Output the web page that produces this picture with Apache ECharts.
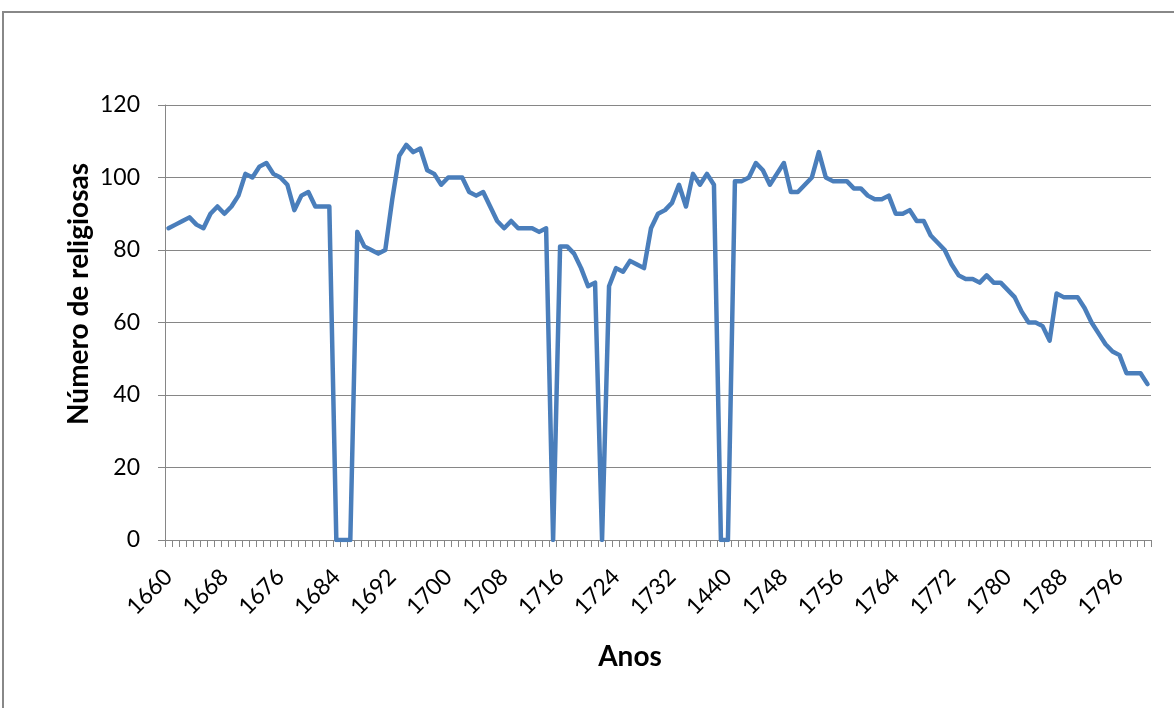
<!DOCTYPE html>
<html>
<head>
<meta charset="utf-8">
<title>Número de religiosas</title>
<script src="https://cdn.jsdelivr.net/npm/echarts@6/dist/echarts.min.js"></script>
<style>
  html, body { margin: 0; padding: 0; background: #fff; }
  #chart { width: 1174px; height: 708px; }
</style>
</head>
<body>
<div id="chart"></div>
<script>
// Year labels along the category axis (the 1740 entry is written "1440" in the source sheet)
const anos = [
  '1660','1661','1662','1663','1664','1665','1666','1667','1668','1669',
  '1670','1671','1672','1673','1674','1675','1676','1677','1678','1679',
  '1680','1681','1682','1683','1684','1685','1686','1687','1688','1689',
  '1690','1691','1692','1693','1694','1695','1696','1697','1698','1699',
  '1700','1701','1702','1703','1704','1705','1706','1707','1708','1709',
  '1710','1711','1712','1713','1714','1715','1716','1717','1718','1719',
  '1720','1721','1722','1723','1724','1725','1726','1727','1728','1729',
  '1730','1731','1732','1733','1734','1735','1736','1737','1738','1739',
  '1440','1741','1742','1743','1744','1745','1746','1747','1748','1749',
  '1750','1751','1752','1753','1754','1755','1756','1757','1758','1759',
  '1760','1761','1762','1763','1764','1765','1766','1767','1768','1769',
  '1770','1771','1772','1773','1774','1775','1776','1777','1778','1779',
  '1780','1781','1782','1783','1784','1785','1786','1787','1788','1789',
  '1790','1791','1792','1793','1794','1795','1796','1797','1798','1799',
  '1800'
];

// Number of nuns recorded each year
const religiosas = [
  86, 87, 88, 89, 87, 86, 90, 92, 90, 92,
  95, 101, 100, 103, 104, 101, 100, 98, 91, 95,
  96, 92, 92, 92, 0, 0, 0, 85, 81, 80,
  79, 80, 94, 106, 109, 107, 108, 102, 101, 98,
  100, 100, 100, 96, 95, 96, 92, 88, 86, 88,
  86, 86, 86, 85, 86, 0, 81, 81, 79, 75,
  70, 71, 0, 70, 75, 74, 77, 76, 75, 86,
  90, 91, 93, 98, 92, 101, 98, 101, 98, 0,
  0, 99, 99, 100, 104, 102, 98, 101, 104, 96,
  96, 98, 100, 107, 100, 99, 99, 99, 97, 97,
  95, 94, 94, 95, 90, 90, 91, 88, 88, 84,
  82, 80, 76, 73, 72, 72, 71, 73, 71, 71,
  69, 67, 63, 60, 60, 59, 55, 68, 67, 67,
  67, 64, 60, 57, 54, 52, 51, 46, 46, 46,
  43
];

// Value axis ticks
const yMin = 0;
const yMax = 120;
const yStep = 20;

const tituloY = 'Número de religiosas';
const tituloX = 'Anos';

const FONT = 'Lato, "Liberation Sans", sans-serif';
const GRAY = '#868686';

const chart = echarts.init(document.getElementById('chart'), null, { renderer: 'canvas' });

chart.setOption({
  animation: false,
  backgroundColor: '#ffffff',
  grid: { left: 165, right: 23, top: 105, bottom: 168, containLabel: false },
  xAxis: {
    type: 'category',
    data: anos,
    boundaryGap: true,
    axisLine: { show: true, lineStyle: { color: GRAY, width: 1 } },
    axisTick: { show: true, interval: 0, length: 7, lineStyle: { color: GRAY, width: 1 } },
    axisLabel: {
      interval: 7,
      rotate: 45,
      margin: 33,
      color: '#000',
      fontFamily: FONT,
      fontSize: 23
    },
    splitLine: { show: false }
  },
  yAxis: {
    type: 'value',
    min: yMin,
    max: yMax,
    interval: yStep,
    axisLine: { show: true, lineStyle: { color: GRAY, width: 1 } },
    axisTick: { show: true, length: 7, lineStyle: { color: GRAY, width: 1 } },
    axisLabel: { margin: 25, color: '#000', fontFamily: FONT, fontSize: 23 },
    splitLine: { show: true, lineStyle: { color: GRAY, width: 1 } }
  },
  series: [{
    type: 'line',
    data: religiosas,
    symbol: 'none',
    showSymbol: false,
    lineStyle: { color: '#4a7ebb', width: 4.5, join: 'round', cap: 'round' },
    emphasis: { disabled: true }
  }],
  graphic: [
    {
      type: 'rect',
      silent: true,
      shape: { x: 3, y: 12, width: 1200, height: 740 },
      style: { fill: 'none', stroke: '#888888', lineWidth: 2 }
    },
    {
      type: 'text',
      silent: true,
      x: 79,
      y: 294,
      rotation: Math.PI / 2,
      style: {
        text: tituloY,
        fill: '#000',
        font: 'bold 28px ' + FONT,
        align: 'center',
        verticalAlign: 'middle'
      }
    },
    {
      type: 'text',
      silent: true,
      x: 630,
      y: 657,
      style: {
        text: tituloX,
        fill: '#000',
        font: 'bold 28px ' + FONT,
        align: 'center',
        verticalAlign: 'middle'
      }
    }
  ]
});
</script>
</body>
</html>
